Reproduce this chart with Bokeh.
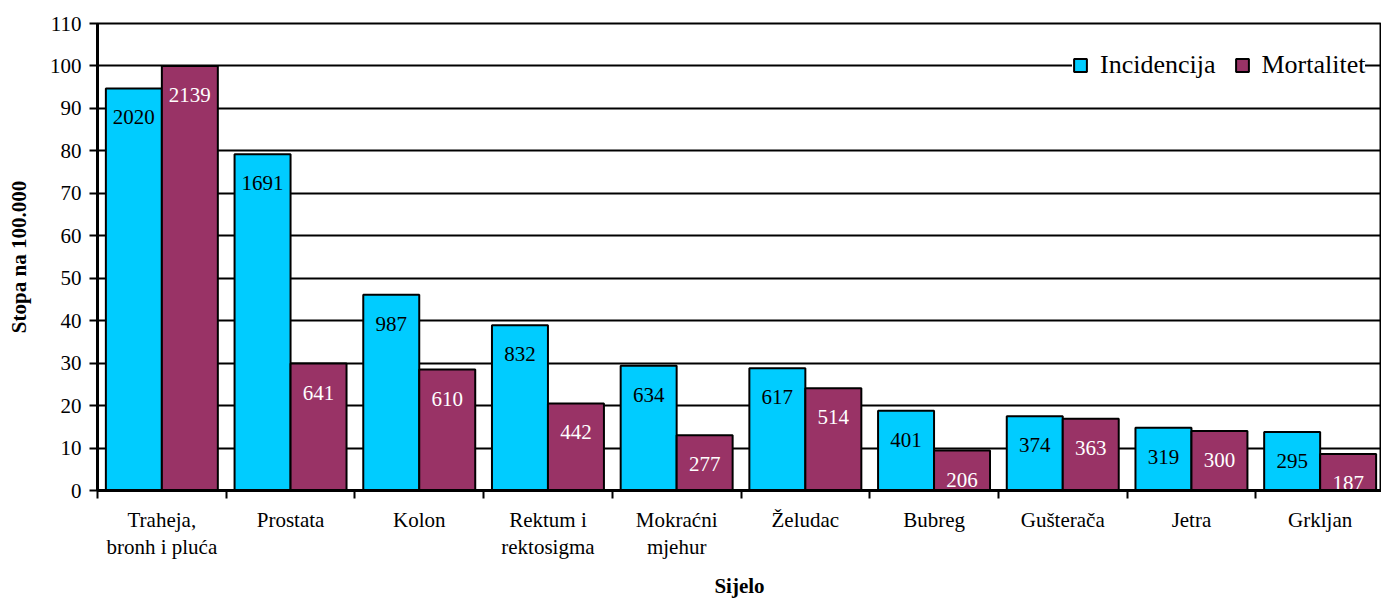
from bokeh.plotting import figure
from bokeh.models import Range1d, FixedTicker, Legend, LegendItem, ColumnDataSource
from bokeh.core.properties import value
from bokeh.embed import file_html
from bokeh.resources import INLINE

categories = ["Traheja,\nbronh i pluća", "Prostata", "Kolon", "Rektum i\nrektosigma",
              "Mokraćni\nmjehur", "Želudac", "Bubreg", "Gušterača", "Jetra", "Grkljan"]
incidencija = [94.7, 79.2, 46.1, 38.9, 29.4, 28.8, 18.8, 17.5, 14.8, 13.8]
mortalitet = [100.0, 29.9, 28.5, 20.5, 13.0, 24.1, 9.4, 16.9, 14.0, 8.6]
incidencija_n = [2020, 1691, 987, 832, 634, 617, 401, 374, 319, 295]
mortalitet_n = [2139, 641, 610, 442, 277, 514, 206, 363, 300, 187]
y_ticks = list(range(0, 111, 10))
series_names = ["Incidencija", "Mortalitet"]

FONT = "Liberation Serif"
C_INC = "#00CCFF"
C_MORT = "#993366"
BAR_W = 0.435

n = len(categories)
centers = [i + 0.5 for i in range(n)]
bounds = [float(i) for i in range(n)]

src_inc = ColumnDataSource(dict(
    x=[c - BAR_W / 2 for c in centers], top=incidencija,
    lab=[str(v) for v in incidencija_n]))
src_mort = ColumnDataSource(dict(
    x=[c + BAR_W / 2 for c in centers], top=mortalitet,
    lab=[str(v) for v in mortalitet_n]))

W, H = 1381, 601
ML, MB, MT, MR = 97, 110, 23, 0
frame_w = W - ML - MR
cat_px = 128.7

p = figure(width=W, height=H, output_backend="svg", toolbar_location=None,
           x_range=Range1d(0, frame_w / cat_px), y_range=Range1d(0, 110),
           min_border_left=ML, min_border_right=MR, min_border_top=MT,
           min_border_bottom=MB, title=None)
p.background_fill_color = "white"
p.border_fill_color = "white"
p.outline_line_color = "black"
p.outline_line_width = 2

r_inc = p.vbar(x="x", top="top", width=BAR_W, bottom=0, source=src_inc,
               fill_color=C_INC, line_color="black", line_width=2)
r_mort = p.vbar(x="x", top="top", width=BAR_W, bottom=0, source=src_mort,
                fill_color=C_MORT, line_color="black", line_width=2)

p.text(x="x", y="top", text="lab", source=src_inc, text_font=value(FONT),
       text_font_size="21px", text_color="black", text_align="center",
       text_baseline="alphabetic", y_offset=29)
p.text(x="x", y="top", text="lab", source=src_mort, text_font=value(FONT),
       text_font_size="21px", text_color="white", text_align="center",
       text_baseline="alphabetic", y_offset=29)

# grid
p.xgrid.visible = False
p.ygrid.ticker = FixedTicker(ticks=y_ticks)
p.ygrid.grid_line_color = "black"
p.ygrid.grid_line_width = 2

# y axis
ya = p.yaxis[0]
ya.ticker = FixedTicker(ticks=y_ticks)
ya.axis_line_width = 3
ya.axis_line_color = "black"
ya.major_tick_line_width = 2
ya.major_tick_line_color = "black"
ya.major_tick_out = 8
ya.major_tick_in = 0
ya.minor_tick_line_color = None
ya.major_label_text_font = FONT
ya.major_label_text_font_size = "21px"
ya.major_label_text_color = "black"
ya.major_label_standoff = 8
ya.axis_label = "Stopa na 100.000"
ya.axis_label_text_font = FONT
ya.axis_label_text_font_size = "21px"
ya.axis_label_text_font_style = "bold"
ya.axis_label_text_color = "black"
ya.axis_label_standoff = 16

# x axis
xa = p.xaxis[0]
xa.ticker = FixedTicker(ticks=centers, minor_ticks=bounds)
xa.major_label_overrides = {c: lab for c, lab in zip(centers, categories)}
xa.axis_line_width = 3
xa.axis_line_color = "black"
xa.major_tick_line_color = None
xa.major_tick_out = 0
xa.major_tick_in = 0
xa.minor_tick_line_color = "black"
xa.minor_tick_line_width = 2
xa.minor_tick_out = 8
xa.minor_tick_in = 0
xa.major_label_text_font = FONT
xa.major_label_text_font_size = "21px"
xa.major_label_text_color = "black"
xa.major_label_text_line_height = 1.15
xa.major_label_standoff = 9
xa.axis_label = "Sijelo"
xa.axis_label_text_font = FONT
xa.axis_label_text_font_size = "21px"
xa.axis_label_text_font_style = "bold"
xa.axis_label_text_color = "black"
xa.axis_label_standoff = 12

legend = Legend(items=[LegendItem(label=series_names[0], renderers=[r_inc]),
                       LegendItem(label=series_names[1], renderers=[r_mort])],
                orientation="horizontal", location=(975, 410),
                label_text_font=FONT, label_text_font_size="26px",
                label_text_color="black",
                glyph_width=16, glyph_height=16, label_standoff=12, spacing=18,
                padding=12, margin=0, border_line_color=None,
                background_fill_color="white", background_fill_alpha=1.0)
p.add_layout(legend, "center")

open("out.html", "w").write(file_html(p, INLINE))
